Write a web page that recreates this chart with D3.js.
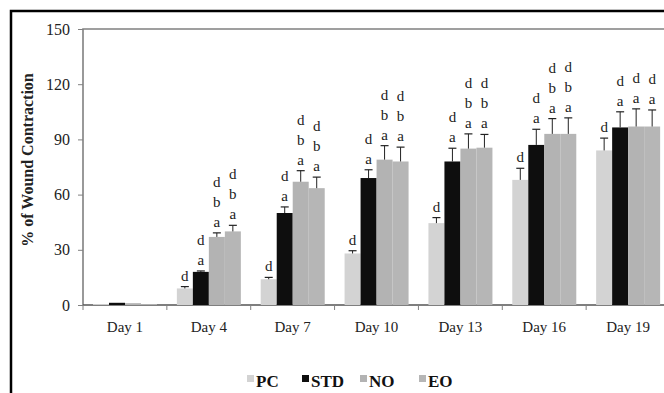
<!DOCTYPE html>
<html>
<head>
<meta charset="utf-8">
<script src="https://cdn.jsdelivr.net/npm/d3@7"></script>
<style>
  body { margin: 0; background: #fff; }
  svg { display: block; }
</style>
</head>
<body>
<figure id="chart" style="margin:0"></figure>
<script>
// data
const days = ["Day 1", "Day 4", "Day 7", "Day 10", "Day 13", "Day 16", "Day 19"];
const series = ["PC", "STD", "NO", "EO"];
const yTicks = [0, 30, 60, 90, 120, 150];

const pcValues  = [0.5, 9, 14, 28, 44.5, 68, 84];
const stdValues = [1.2, 18, 50, 69, 78, 87, 96.5];
const noValues  = [1, 37, 67, 79, 85, 93, 97];
const eoValues  = [0.5, 40, 63.5, 78, 85.5, 93, 97];

const pcErr  = [0, 1, 1, 1.5, 3, 6.3, 6.7];
const stdErr = [0, 0.5, 3.3, 4.5, 7.2, 8.5, 8.5];
const noErr  = [0, 2.2, 6, 7.6, 8, 8.3, 9.6];
const eoErr  = [0, 3.3, 6, 7.8, 7.2, 8.7, 9];

const pcLetters  = ["", "d", "d", "d", "d", "d", "d"];
const stdLetters = ["", "da", "da", "da", "da", "da", "da"];
const noLetters  = ["", "dba", "dba", "dba", "dba", "dba", "da"];
const eoLetters  = ["", "dba", "dba", "dba", "dba", "dba", "da"];

const colors = { PC: "#d3d3d3", STD: "#0e0e0e", NO: "#b3b3b3", EO: "#b6b6b6" };
const FONT = "'Liberation Serif', 'Times New Roman', serif";

const rows = [];
series.forEach((s, si) => {
  const vals = [pcValues, stdValues, noValues, eoValues][si];
  const errs = [pcErr, stdErr, noErr, eoErr][si];
  const lets = [pcLetters, stdLetters, noLetters, eoLetters][si];
  days.forEach((d, i) => rows.push({ day: d, series: s, value: vals[i], err: errs[i], letters: lets[i] }));
});

const W = 664, H = 393;
const plot = { left: 83, right: 670, top: 29, bottom: 305 };

const svg = d3.select("#chart").append("svg")
  .attr("width", W).attr("height", H)
  .style("font-family", FONT);

svg.append("rect").attr("width", W).attr("height", H).attr("fill", "#fff");

// outer frame
svg.append("rect")
  .attr("x", 11).attr("y", 11).attr("width", 700).attr("height", 420)
  .attr("fill", "none").attr("stroke", "#000").attr("stroke-width", 2.5);

const x = d3.scaleBand().domain(days).range([plot.left, plot.right]);
const xs = d3.scaleBand().domain(series).range([10, 74]);
const y = d3.scaleLinear().domain([0, 150]).range([plot.bottom, plot.top]);

// plot frame (top + left)
svg.append("path")
  .attr("d", `M${plot.left},${plot.bottom} V${plot.top} H${plot.right}`)
  .attr("fill", "none").attr("stroke", "#808080").attr("stroke-width", 1.6);

// y axis ticks + labels
const yAxis = svg.append("g").attr("transform", `translate(${plot.left},0)`)
  .call(d3.axisLeft(y).tickValues(yTicks).tickSize(5).tickSizeOuter(0).tickPadding(8));
yAxis.attr("font-family", null);
yAxis.select(".domain").remove();
yAxis.selectAll("line").attr("stroke", "#808080");
yAxis.selectAll("text").attr("font-size", 16).attr("fill", "#222")
  .style("font-family", FONT);

// baseline
svg.append("line")
  .attr("x1", plot.left).attr("x2", plot.right)
  .attr("y1", plot.bottom).attr("y2", plot.bottom)
  .attr("stroke", "#555").attr("stroke-width", 1.5);

// x ticks at category boundaries
svg.append("g").selectAll("line")
  .data(days.concat(["end"]))
  .join("line")
  .attr("x1", (d, i) => plot.left + i * x.bandwidth())
  .attr("x2", (d, i) => plot.left + i * x.bandwidth())
  .attr("y1", plot.bottom).attr("y2", plot.bottom + 5)
  .attr("stroke", "#808080");

// x labels
svg.append("g").selectAll("text")
  .data(days).join("text")
  .attr("x", d => x(d) + x.bandwidth() / 2)
  .attr("y", 332)
  .attr("text-anchor", "middle")
  .attr("font-size", 15).attr("fill", "#222")
  .text(d => d);

// bars
const groups = svg.append("g").selectAll("g")
  .data(rows).join("g")
  .attr("transform", d => `translate(${x(d.day) + xs(d.series)},0)`);

groups.append("rect")
  .attr("x", 0).attr("width", xs.bandwidth())
  .attr("y", d => y(d.value))
  .attr("height", d => y(0) - y(d.value))
  .attr("fill", d => colors[d.series]);

// error bars
const eb = groups.filter(d => d.err > 0);
const cx = xs.bandwidth() / 2;
eb.append("line")
  .attr("x1", cx).attr("x2", cx)
  .attr("y1", d => y(d.value)).attr("y2", d => y(d.value + d.err))
  .attr("stroke", "#222").attr("stroke-width", 1);
eb.append("line")
  .attr("x1", cx - 4).attr("x2", cx + 4)
  .attr("y1", d => y(d.value + d.err)).attr("y2", d => y(d.value + d.err))
  .attr("stroke", "#222").attr("stroke-width", 1.2);

// significance letters, stacked from the bottom up
groups.each(function (d) {
  const g = d3.select(this);
  const chars = d.letters.split("").reverse();
  chars.forEach((c, k) => {
    g.append("text")
      .attr("x", cx)
      .attr("y", y(d.value + d.err) - 6 - k * 20)
      .attr("text-anchor", "middle")
      .attr("font-size", 15).attr("fill", "#222")
      .text(c);
  });
});

// y title
svg.append("text")
  .attr("transform", "translate(33,160) rotate(-90)")
  .attr("text-anchor", "middle")
  .attr("font-size", 16).attr("font-weight", "bold").attr("fill", "#222")
  .text("% of Wound Contraction");

// legend
const legendX = [247, 302, 360, 419];
const legend = svg.append("g").selectAll("g")
  .data(series).join("g")
  .attr("transform", (d, i) => `translate(${legendX[i]},0)`);
legend.append("rect")
  .attr("x", 0).attr("y", 375).attr("width", 7).attr("height", 7)
  .attr("fill", d => colors[d]);
legend.append("text")
  .attr("x", 9).attr("y", 387)
  .attr("font-size", 17).attr("font-weight", "bold").attr("fill", "#111")
  .text(d => d);
</script>
</body>
</html>
